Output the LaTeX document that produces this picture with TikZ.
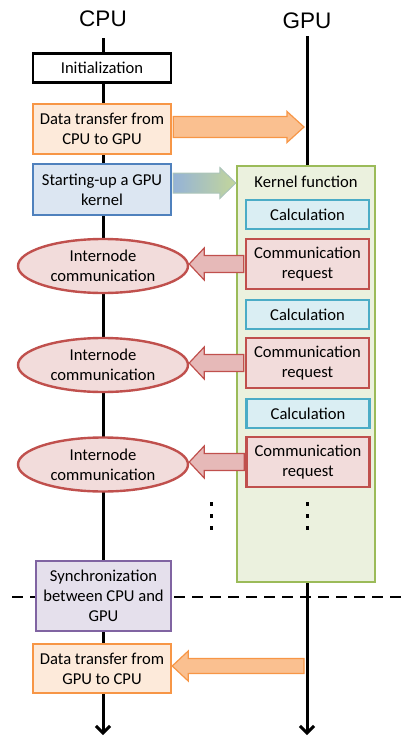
\documentclass[tikz,border=0pt]{standalone}
\usepackage{fontspec}
\setmainfont{Carlito}
\newfontfamily\helv{Liberation Sans}
\usetikzlibrary{shapes.geometric,arrows.meta,calc}
\definecolor{oline}{HTML}{F79646}
\definecolor{ofill}{HTML}{FDEADA}
\definecolor{oarr}{HTML}{FAC090}
\definecolor{bline}{HTML}{4F81BD}
\definecolor{bfill}{HTML}{DCE6F2}
\definecolor{gline}{HTML}{9BBB59}
\definecolor{gfill}{HTML}{EBF1DE}
\definecolor{cline}{HTML}{4BACC6}
\definecolor{cfill}{HTML}{DAEEF3}
\definecolor{rline}{HTML}{C0504D}
\definecolor{rfill}{HTML}{F2DCDB}
\definecolor{rarr}{HTML}{E6B9B8}
\definecolor{pline}{HTML}{8064A2}
\definecolor{pfill}{HTML}{E5E0EC}
\definecolor{gradl}{HTML}{95B3D7}
\definecolor{gradr}{HTML}{C3D69B}
\newcommand\rarrow[6]{%
\path[#1] let \p1=#2, \p2=#3 in (\x1,\y1+#4) -- (\x2-#6,\y1+#4) -- (\x2-#6,\y1+#5) -- (\x2,\y1) -- (\x2-#6,\y1-#5) -- (\x2-#6,\y1-#4) -- (\x1,\y1-#4) -- cycle;}
\newcommand\larrow[6]{%
\path[#1] let \p1=#2, \p2=#3 in (\x1,\y1+#4) -- (\x2+#6,\y1+#4) -- (\x2+#6,\y1+#5) -- (\x2,\y1) -- (\x2+#6,\y1-#5) -- (\x2+#6,\y1-#4) -- (\x1,\y1-#4) -- cycle;}
\begin{document}
\begin{tikzpicture}[x=1pt,y=-1pt,
  txt/.style={font=\fontsize{16.6}{20}\selectfont, align=center},
  box/.style={txt, rectangle, draw, line width=2.4pt, inner sep=1pt, minimum width=138pt},
  timeline/.style={line width=3pt, -{Straight Barb[length=7pt,width=14pt,line width=3pt]}},
  oarrow/.style={fill=oarr, draw=oline, line width=1.2pt},
  rarrowst/.style={fill=rarr, draw=rline, line width=1.2pt},
  calcbox/.style={box, draw=cline, fill=cfill, minimum width=123pt, minimum height=29pt},
  reqbox/.style={box, draw=rline, fill=rfill, minimum width=123pt, minimum height=50pt},
  ellnode/.style={txt, ellipse, draw=rline, fill=rfill, line width=2.4pt, minimum width=170pt, minimum height=54pt, inner sep=0pt},
  dotmark/.style={fill=black}
]
\useasboundingbox (0,0) rectangle (404,736);
% titles
\node[font=\helv\fontsize{22.5}{24}\selectfont] (cpu) at (103,19) {CPU};
\node[font=\helv\fontsize{22.5}{24}\selectfont] (gpu) at (307,21) {GPU};
\coordinate (cputop) at (103,38);
\coordinate (cpubot) at (103,735);
\coordinate (gputop) at (307,36);
\coordinate (gpubot) at (307,735);
\draw[timeline] (cputop) -- (cpubot);
\draw[timeline] (gputop) -- (gpubot);
% dashed separator
\coordinate (dl) at (12,597);
\coordinate (dr) at (404,597);
\draw[line width=2.8pt, dash pattern=on 11pt off 7pt] (dl) -- (dr);
% CPU side boxes
\node[box, draw=black, line width=2.8pt, fill=white, minimum height=29pt] (init) at (102,68) {Initialization};
\node[box, draw=oline, fill=ofill, minimum height=50pt] (data1) at (102,129) {Data transfer from\\CPU to GPU};
\node[box, draw=bline, fill=bfill, minimum height=51pt] (start) at (102,189.5) {Starting-up a GPU\\kernel};
% kernel
\node[rectangle, draw=gline, fill=gfill, line width=2.4pt, minimum width=138pt, minimum height=416pt] (kernel) at (306,374) {};
\node[txt] (klabel) at (306,182) {Kernel function};
\node[calcbox] (calc1) at (307.5,214.5) {Calculation};
\node[reqbox] (req1) at (307.5,264) {Communication\\request};
\node[calcbox] (calc2) at (307.5,314.5) {Calculation};
\node[reqbox] (req2) at (307.5,363) {Communication\\request};
\node[calcbox] (calc3) at (308,413.5) {Calculation};
\node[reqbox] (req3) at (308,462) {Communication\\request};
% ellipses
\node[ellnode] (ell1) at (103,266) {Internode\\communication};
\node[ellnode] (ell2) at (103,365) {Internode\\communication};
\node[ellnode] (ell3) at (103,464.5) {Internode\\communication};
% dots
\foreach \yy in {504,516,528} {
  \fill[dotmark] (209.5,\yy-1.8) rectangle ++(3.6,3.6);
  \fill[dotmark] (305.5,\yy-1.8) rectangle ++(3.6,3.6);
}
% sync and data back
\node[box, draw=pline, fill=pfill, minimum width=135pt, minimum height=70pt] (sync) at (103.5,596) {Synchronization\\between CPU and\\GPU};
\node[box, draw=oline, fill=ofill, minimum height=49pt] (data2) at (102,668.5) {Data transfer from\\GPU to CPU};
% block arrows
\coordinate (g1) at (304,127);
\coordinate (g2) at (304,666);
\rarrow{oarrow}{([yshift=2pt,xshift=1pt]data1.east)}{(g1)}{10.5pt}{15.5pt}{17pt}
\rarrow{left color=gradl, right color=gradr, draw=gradl!50!gradr, line width=1pt}{([yshift=6.5pt,xshift=1pt]start.east)}{(kernel.west)}{10pt}{15.5pt}{16pt}
\larrow{rarrowst}{([xshift=-1pt]req1.west)}{(ell1.east)}{8.5pt}{16pt}{15pt}
\larrow{rarrowst}{([xshift=-1pt]req2.west)}{(ell2.east)}{8.5pt}{16pt}{15pt}
\larrow{rarrowst}{([xshift=-1pt]req3.west)}{(ell3.east)}{8.5pt}{16pt}{15pt}
\larrow{oarrow}{(g2)}{(data2.east)}{7.5pt}{15pt}{16pt}
\end{tikzpicture}
\end{document}
